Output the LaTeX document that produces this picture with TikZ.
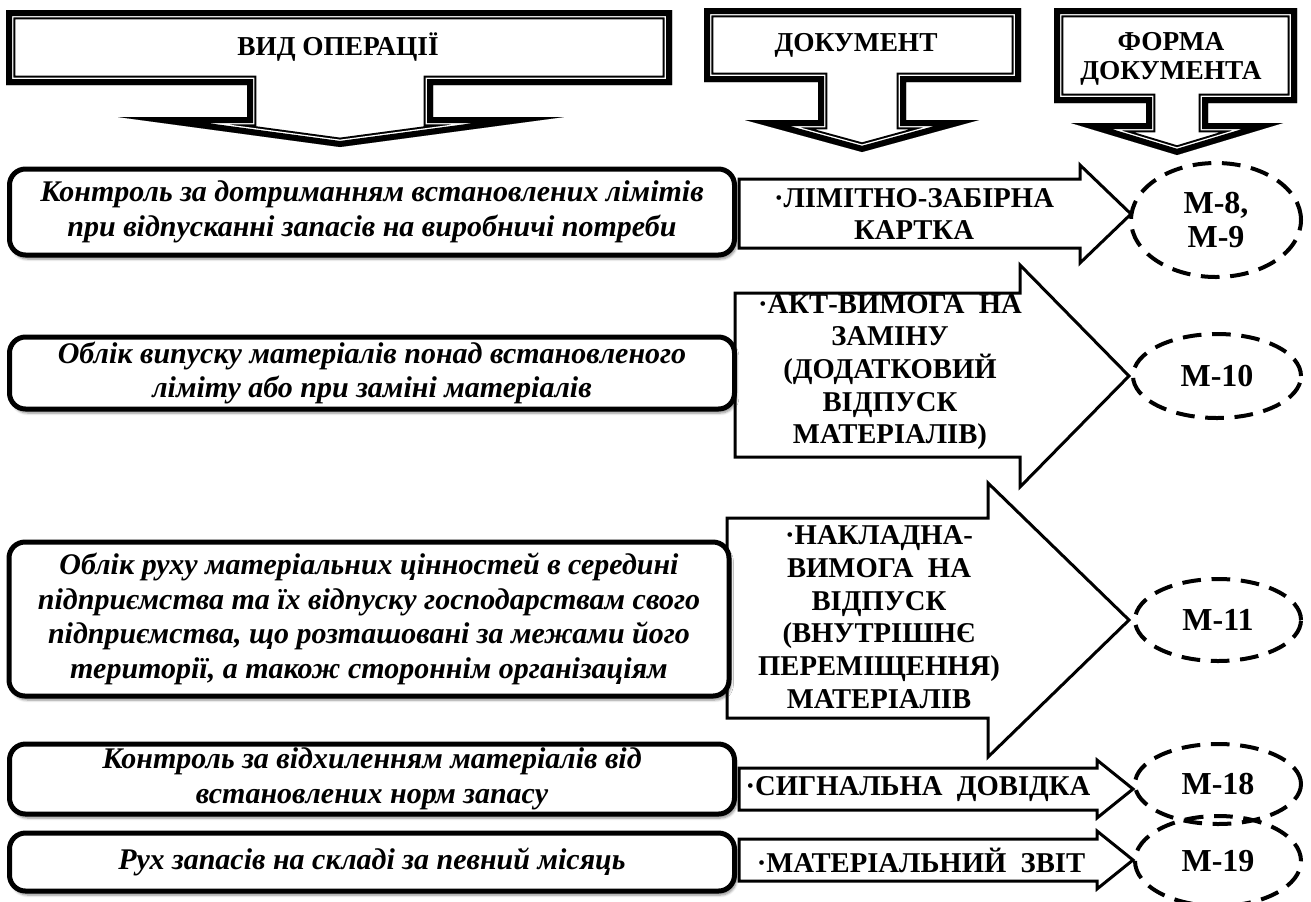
\documentclass[tikz,border=0pt]{standalone}
\usepackage{fontspec}
\setmainfont{Liberation Serif}[
    BoldFont={Liberation Serif Bold},
    ItalicFont={Liberation Serif Italic},
    BoldItalicFont={Liberation Serif Bold Italic}]
\usetikzlibrary{shapes.geometric,shadows.blur}

% header arrow with a thick-thin double border, drawn inside the shape
\newcommand{\hdrarrow}[1]{%
    \fill[white] #1;
    \begin{scope}
        \clip #1;
        \draw[line width=14pt] #1;
        \draw[white, line width=11pt] #1;
        \draw[line width=9pt] #1;
    \end{scope}}

\tikzset{
    % sizes given in picture units (1 unit = 0.75pt)
    boxsize/.style 2 args={
        minimum width=#1*0.75pt,
        minimum height=#2*0.75pt
    },
    hdrtext/.style={
        align=center,
        font=\fontsize{20.5}{22}\selectfont\bfseries
    },
    opbox/.style={
        draw,
        line width=3.75pt,
        rounded corners=12pt,
        fill=white,
        inner sep=0pt,
        align=center,
        blur shadow={shadow xshift=1.5pt, shadow yshift=-3pt, shadow blur steps=6, shadow opacity=45},
        font=\fontsize{22.5}{26}\selectfont\bfseries\itshape
    },
    docarrow/.style={
        draw,
        line width=2.25pt,
        fill=white
    },
    doctext/.style={
        align=center,
        font=\fontsize{21.5}{24.5}\selectfont\bfseries
    },
    formel/.style={
        ellipse,
        draw,
        line width=3pt,
        dash pattern=on 14pt off 8pt,
        inner sep=0pt,
        align=center,
        font=\fontsize{24}{26}\selectfont\bfseries
    },
}

\begin{document}
\begin{tikzpicture}[x=0.75pt, y=-0.75pt]
    \useasboundingbox (0,0) rectangle (1311,901);

    % Column headers, boxes with a down arrow
    \hdrarrow{(6,10) -- (672,10) -- (672,85) -- (433,85) -- (433,117) -- (564,117)
      -- (340,147) -- (118,117) -- (247,117) -- (247,85) -- (6,85) -- cycle}
    \node[hdrtext] (hop) at (338,47) {ВИД ОПЕРАЦІЇ};
    \hdrarrow{(704,8) -- (1021,8) -- (1021,82) -- (906,82) -- (906,120) -- (979,120)
      -- (862,152) -- (745,120) -- (818,120) -- (818,82) -- (704,82) -- cycle}
    \node[hdrtext] (hdoc) at (856,45) {ДОКУМЕНТ};
    \hdrarrow{(1054,8) -- (1297,8) -- (1297,103) -- (1208,103) -- (1208,123) -- (1283,123)
      -- (1177,155) -- (1071,123) -- (1146,123) -- (1146,103) -- (1054,103) -- cycle}
    \node[hdrtext] (hform) at (1171,59) {ФОРМА\\ДОКУМЕНТА};

    % Document arrows
    \draw[docarrow] (739,179) -- (1080,179) -- (1080,165) -- (1131,214)
      -- (1080,263) -- (1080,248) -- (739,248) -- cycle;
    \node[doctext] (doc1) at (914,214) {·ЛІМІТНО-ЗАБІРНА\\КАРТКА};
    \draw[docarrow] (735,293) -- (1020,293) -- (1020,265) -- (1129,376)
      -- (1020,487) -- (1020,457) -- (735,457) -- cycle;
    \node[doctext] (doc2) at (890,372) {·АКТ-ВИМОГА\enspace НА\\ЗАМІНУ\\(ДОДАТКОВИЙ\\ВІДПУСК\\МАТЕРІАЛІВ)};
    \draw[docarrow] (727,518) -- (988,518) -- (988,483) -- (1129,620)
      -- (988,757) -- (988,718) -- (727,718) -- cycle;
    \node[doctext] (doc3) at (879,617) {·НАКЛАДНА-\\ВИМОГА\enspace НА\\ВІДПУСК\\(ВНУТРІШНЄ\\ПЕРЕМІЩЕННЯ)\\МАТЕРІАЛІВ};
    \draw[docarrow] (739,768) -- (1097,768) -- (1097,760) -- (1133,789)
      -- (1097,818) -- (1097,810) -- (739,810) -- cycle;
    \node[doctext] (doc4) at (918,789) {·СИГНАЛЬНА\enspace ДОВІДКА};
    \draw[docarrow] (739,839) -- (1097,839) -- (1097,831) -- (1133,860)
      -- (1097,889) -- (1097,881) -- (739,881) -- cycle;
    \node[doctext] (doc5) at (921,860) {·МАТЕРІАЛЬНИЙ\enspace ЗВІТ};

    % Operations, rounded boxes
    \node[opbox, boxsize={725}{86}] (op1) at (372,212)
      {Контроль за дотриманням встановлених лімітів\\при відпусканні запасів на виробничі потреби};
    \node[opbox, boxsize={725}{72}] (op2) at (372,373)
      {Облік випуску матеріалів понад встановленого\\ліміту або при заміні матеріалів};
    \node[opbox, boxsize={720}{154}] (op3) at (369,619)
      {Облік руху матеріальних цінностей в середині\\підприємства та їх відпуску господарствам свого\\підприємства, що розташовані за межами його\\території, а також стороннім організаціям};
    \node[opbox, boxsize={725}{70}] (op4) at (372,779)
      {Контроль за відхиленням матеріалів від\\встановлених норм запасу};
    \node[opbox, boxsize={725}{58}] (op5) at (372,862)
      {Рух запасів на складі за певний місяць};

    % Forms, dashed ellipses
    \node[formel, boxsize={170}{114}] (form1) at (1216,220) {М-8,\\М-9};
    \node[formel, boxsize={168}{84}] (form2) at (1217,376) {М-10};
    \node[formel, boxsize={166}{82}] (form3) at (1218,620) {М-11};
    \node[formel, boxsize={166}{80}] (form4) at (1218,784) {М-18};
    \node[formel, boxsize={166}{90}] (form5) at (1218,861) {М-19};
\end{tikzpicture}
\end{document}
